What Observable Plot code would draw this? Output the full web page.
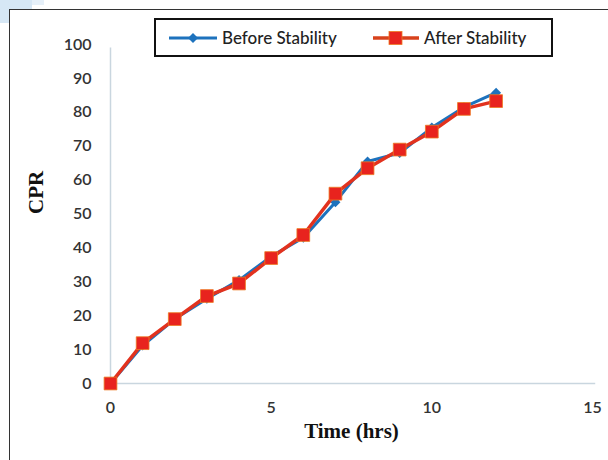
<!DOCTYPE html>
<html>
<head>
<meta charset="utf-8">
<script src="https://cdn.jsdelivr.net/npm/d3@7"></script>
<script src="https://cdn.jsdelivr.net/npm/@observablehq/plot@0.6"></script>
<style>
  html, body { margin: 0; padding: 0; background: #fff; overflow: hidden; }
  #wrap { position: relative; width: 608px; height: 460px; }
  #frame { position: absolute; left: 9px; top: 9px; width: 700px; height: 600px;
           border-left: 1.5px solid #333; border-top: 1.5px solid #333; box-sizing: border-box; }
  .deco { position: absolute; background: #d6e7f5; }
  #legend { position: absolute; left: 154px; top: 18px; width: 399px; height: 39px;
            border: 2px solid #111; box-sizing: border-box; background: #fff; }
  .item { position: absolute; top: 0; height: 35px; display: flex; align-items: center;
          font-family: Lato, "Open Sans", sans-serif; font-size: 17px; font-weight: 500; color: #222; }
  .item svg { margin-right: 3px; }
  #chart { position: absolute; left: 0; top: 0; }
</style>
</head>
<body>
<div id="wrap">
  <div class="deco" style="left:0;top:0;width:32px;height:9px;"></div>
  <div class="deco" style="left:0;top:9px;width:9px;height:14px;"></div>
  <div class="deco" style="left:32px;top:0;width:12px;height:5px;background:#e6f0f9"></div>
  <div id="chart"></div>
  <div id="frame"></div>
  <div id="legend">
    <div class="item" style="left:11px">
      <svg width="52" height="14"><line x1="2" y1="7" x2="50" y2="7" stroke="#1d72bd" stroke-width="3"/><path d="M26,2 L31,7 L26,12 L21,7 Z" fill="#1d72bd"/></svg>Before Stability
    </div>
    <div class="item" style="left:215px">
      <svg width="50" height="16"><line x1="2" y1="8" x2="48" y2="8" stroke="#d8421c" stroke-width="3.5"/><rect x="18" y="1.5" width="13" height="13" fill="#e8231e" stroke="#ee7a22" stroke-width="0.8"/></svg>After Stability
    </div>
  </div>
</div>
<script>
const time = [0, 1, 2, 3, 4, 5, 6, 7, 8, 9, 10, 11, 12];
const beforeStability = [0, 11.2, 19, 25, 30.5, 37.5, 43, 53.5, 65.5, 68, 75.5, 81.5, 85.8];
const afterStability  = [0, 11.9, 19, 25.8, 29.5, 37, 43.8, 56, 63.5, 69, 74.3, 81, 83.3];
const xTicks = [0, 5, 10, 15];
const yTicks = [0, 10, 20, 30, 40, 50, 60, 70, 80, 90, 100];

const before = time.map((t, i) => ({t, v: beforeStability[i]}));
const after = time.map((t, i) => ({t, v: afterStability[i]}));

const chart = Plot.plot({
  width: 608,
  height: 460,
  marginLeft: 110,
  marginRight: 16,
  marginTop: 44,
  marginBottom: 77,
  style: {background: "transparent", fontFamily: "Lato, sans-serif"},
  x: {domain: [0, 15]},
  y: {domain: [0, 100]},
  marks: [
    Plot.ruleX([0], {y1: 0, y2: 99, stroke: "#c9d6df", strokeWidth: 1.5}),
    Plot.ruleY([0], {x1: 0, x2: 15.1, stroke: "#c9d6df", strokeWidth: 1.5}),
    Plot.axisY({ticks: yTicks, tickSize: 0, tickPadding: 19, fontSize: 16, fontWeight: 600, fill: "#333", label: null}),
    Plot.axisX({ticks: xTicks, tickSize: 0, tickPadding: 18, fontSize: 16, fontWeight: 600, fill: "#333", label: null}),
    Plot.line(before, {x: "t", y: "v", stroke: "#1d72bd", strokeWidth: 3}),
    Plot.dot(before, {x: "t", y: "v", symbol: "diamond2", r: 4.5, fill: "#1d72bd", stroke: "none"}),
    Plot.line(after, {x: "t", y: "v", stroke: "#e2321e", strokeWidth: 3.5}),
    Plot.dot(after, {x: "t", y: "v", symbol: "square", r: 7.2, fill: "#e8231e", stroke: "#ee7a22", strokeWidth: 0.8}),
    Plot.text(["CPR"], {frameAnchor: "left", dx: -74, dy: 0, rotate: -90, fontSize: 21, fontWeight: "bold", fontFamily: "Liberation Serif, serif", fill: "#111"}),
    Plot.text(["Time (hrs)"], {frameAnchor: "bottom", dy: 54, dx: 0, fontSize: 21, fontWeight: "bold", fontFamily: "Liberation Serif, serif", fill: "#111"})
  ]
});
document.getElementById("chart").appendChild(chart);
</script>
</body>
</html>
